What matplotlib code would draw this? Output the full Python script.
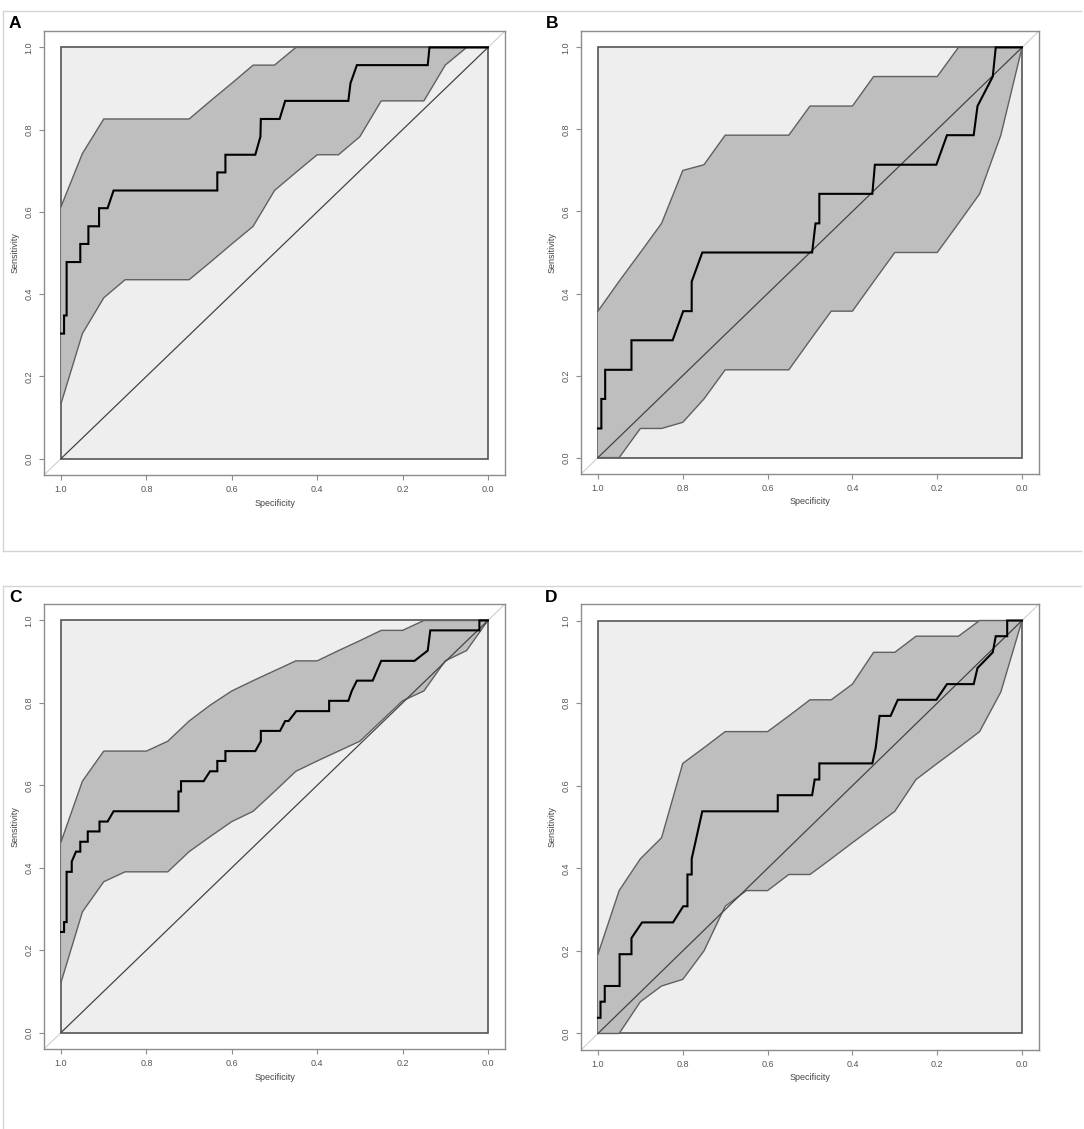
import matplotlib
matplotlib.use("Agg")
import matplotlib.pyplot as plt
from matplotlib.lines import Line2D
from matplotlib.patches import Rectangle
import numpy as np

plt.rcParams['font.family'] = ['Liberation Sans', 'DejaVu Sans']

# Common specificity grid for the confidence bands
ci_spec = [1.00, 0.95, 0.90, 0.85, 0.80, 0.75, 0.70, 0.65, 0.60, 0.55, 0.50,
           0.45, 0.40, 0.35, 0.30, 0.25, 0.20, 0.15, 0.10, 0.05, 0.00]

# ---------------- Panel A ----------------
a_roc_spec = [1.000, 0.993, 0.993, 0.987, 0.987, 0.955, 0.955, 0.936, 0.936,
              0.911, 0.911, 0.891, 0.877, 0.634, 0.634, 0.615, 0.615, 0.545, 0.533,
              0.532, 0.488, 0.475, 0.327, 0.322, 0.307, 0.141, 0.137, 0.000]
a_roc_sens = [0.304, 0.304, 0.348, 0.348, 0.478, 0.478, 0.522, 0.522, 0.565,
              0.565, 0.609, 0.609, 0.652, 0.652, 0.696, 0.696, 0.739, 0.739, 0.783,
              0.826, 0.826, 0.870, 0.870, 0.913, 0.957, 0.957, 1.000, 1.000]
a_ci_upper = [0.613, 0.742, 0.826, 0.826, 0.826, 0.826, 0.826, 0.870, 0.913, 0.957, 0.957,
              1.0, 1.0, 1.0, 1.0, 1.0, 1.0, 1.0, 1.0, 1.0, 1.0]
a_ci_lower = [0.134, 0.304, 0.391, 0.435, 0.435, 0.435, 0.435, 0.478, 0.522, 0.565, 0.652,
              0.696, 0.739, 0.739, 0.783, 0.870, 0.870, 0.870, 0.957, 1.0, 1.0]

# ---------------- Panel B ----------------
b_roc_spec = [1.000, 0.992, 0.992, 0.983, 0.983, 0.921, 0.921, 0.824, 0.799,
              0.779, 0.779, 0.754, 0.495, 0.487, 0.478, 0.478, 0.353, 0.347, 0.202,
              0.177, 0.114, 0.105, 0.069, 0.062, 0.000]
b_roc_sens = [0.071, 0.071, 0.143, 0.143, 0.214, 0.214, 0.286, 0.286, 0.357,
              0.357, 0.429, 0.500, 0.500, 0.571, 0.571, 0.643, 0.643, 0.714, 0.714,
              0.786, 0.786, 0.857, 0.929, 1.000, 1.000]
b_ci_upper = [0.357, 0.430, 0.500, 0.571, 0.700, 0.714, 0.786, 0.786, 0.786, 0.786, 0.857,
              0.857, 0.857, 0.929, 0.929, 0.929, 0.929, 1.0, 1.0, 1.0, 1.0]
b_ci_lower = [0.0, 0.0, 0.071, 0.071, 0.086, 0.143, 0.214, 0.214, 0.214, 0.214, 0.286,
              0.357, 0.357, 0.429, 0.500, 0.500, 0.500, 0.571, 0.643, 0.786, 1.0]

# ---------------- Panel C ----------------
c_roc_spec = [1.000, 0.993, 0.993, 0.987, 0.987, 0.975, 0.975, 0.965, 0.955,
              0.955, 0.9375, 0.9375, 0.910, 0.910, 0.891, 0.877, 0.725, 0.725, 0.719,
              0.719, 0.666, 0.651, 0.634, 0.634, 0.615, 0.615, 0.545, 0.532, 0.532,
              0.487, 0.475, 0.467, 0.449, 0.372, 0.372, 0.327, 0.319, 0.307, 0.270,
              0.250, 0.172, 0.141, 0.135, 0.020, 0.020, 0.000]
c_roc_sens = [0.244, 0.244, 0.268, 0.268, 0.390, 0.390, 0.415, 0.439, 0.439,
              0.463, 0.463, 0.488, 0.488, 0.512, 0.512, 0.537, 0.537, 0.585, 0.585,
              0.610, 0.610, 0.634, 0.634, 0.659, 0.659, 0.683, 0.683, 0.707, 0.732,
              0.732, 0.756, 0.756, 0.780, 0.780, 0.805, 0.805, 0.829, 0.854, 0.854,
              0.902, 0.902, 0.927, 0.976, 0.976, 1.000, 1.000]
c_ci_upper = [0.463, 0.610, 0.683, 0.683, 0.683, 0.707, 0.756, 0.795, 0.829, 0.854, 0.878,
              0.902, 0.902, 0.927, 0.951, 0.976, 0.976, 1.0, 1.0, 1.0, 1.0]
c_ci_lower = [0.122, 0.293, 0.366, 0.390, 0.390, 0.390, 0.439, 0.476, 0.512, 0.537, 0.585,
              0.634, 0.659, 0.683, 0.707, 0.756, 0.805, 0.829, 0.902, 0.927, 1.0]

# ---------------- Panel D ----------------
d_roc_spec = [1.000, 0.994, 0.994, 0.984, 0.984, 0.949, 0.949, 0.921, 0.921,
              0.896, 0.823, 0.799, 0.789, 0.789, 0.779, 0.779, 0.754, 0.576, 0.576,
              0.495, 0.489, 0.478, 0.478, 0.353, 0.345, 0.336, 0.310, 0.293, 0.202,
              0.177, 0.114, 0.105, 0.069, 0.062, 0.035, 0.035, 0.000]
d_roc_sens = [0.038, 0.038, 0.077, 0.077, 0.115, 0.115, 0.192, 0.192, 0.231,
              0.269, 0.269, 0.308, 0.308, 0.385, 0.385, 0.423, 0.538, 0.538, 0.577,
              0.577, 0.615, 0.615, 0.654, 0.654, 0.692, 0.769, 0.769, 0.808, 0.808,
              0.846, 0.846, 0.885, 0.923, 0.962, 0.962, 1.000, 1.000]
d_ci_upper = [0.192, 0.346, 0.423, 0.474, 0.654, 0.692, 0.731, 0.731, 0.731, 0.769, 0.808,
              0.808, 0.846, 0.923, 0.923, 0.962, 0.962, 0.962, 1.0, 1.0, 1.0]
d_ci_lower = [0.0, 0.0, 0.077, 0.115, 0.131, 0.200, 0.308, 0.346, 0.346, 0.385, 0.385,
              0.423, 0.462, 0.500, 0.538, 0.615, 0.654, 0.692, 0.731, 0.827, 1.0]

panel_labels = ["A", "B", "C", "D"]
tick_values = [0.0, 0.2, 0.4, 0.6, 0.8, 1.0]
tick_labels = ["0.0", "0.2", "0.4", "0.6", "0.8", "1.0"]

W, H = 1084, 1129
fig = plt.figure(figsize=(W / 100, H / 100), dpi=100)

def px_axes(left, top, right, bottom):
    return fig.add_axes([left / W, 1 - bottom / H, (right - left) / W, (bottom - top) / H])

# panel frames (light gray lines)
frame_col = "#d4d4d4"
for y in (11, 551, 586):
    fig.add_artist(Line2D([3 / W, 1081 / W], [1 - y / H, 1 - y / H], color=frame_col, lw=1.0))
fig.add_artist(Line2D([3 / W, 3 / W], [1 - 11 / H, 1 - 551 / H], color=frame_col, lw=1.0))
fig.add_artist(Line2D([3 / W, 3 / W], [1 - 586 / H, 1 - 1129 / H], color=frame_col, lw=1.0))

boxes = [(44, 31, 505, 475), (581, 31, 1039, 474), (44, 604, 505, 1049), (581, 604, 1039, 1050)]
label_pos = [(9, 24), (546, 24), (9, 597), (545, 597)]
data = [
    (a_roc_spec, a_roc_sens, a_ci_upper, a_ci_lower),
    (b_roc_spec, b_roc_sens, b_ci_upper, b_ci_lower),
    (c_roc_spec, c_roc_sens, c_ci_upper, c_ci_lower),
    (d_roc_spec, d_roc_sens, d_ci_upper, d_ci_lower),
]

for box, lab, lp, (rs, rse, cu, cl) in zip(boxes, panel_labels, label_pos, data):
    ax = px_axes(*box)
    ax.set_xlim(1.04, -0.04)
    ax.set_ylim(-0.04, 1.04)
    # light diagonal across whole plot region
    ax.plot([1.04, -0.04], [-0.04, 1.04], color="#cfcfcf", lw=0.8, zorder=1)
    # gray data square
    ax.add_patch(Rectangle((0, 0), 1, 1, facecolor="#eeeeee", edgecolor="#555555",
                           lw=1.2, zorder=2))
    # confidence band
    ax.fill_between(ci_spec, cl, cu, facecolor="#bebebe", edgecolor="none", zorder=3)
    ax.plot(ci_spec, cu, color="#606060", lw=1.0, zorder=4)
    ax.plot(ci_spec, cl, color="#606060", lw=1.0, zorder=4)
    # chance diagonal
    ax.plot([1, 0], [0, 1], color="#444444", lw=0.9, zorder=5)
    # ROC curve
    ax.plot(rs, rse, color="black", lw=1.5, zorder=6, solid_joinstyle="miter")

    for s in ax.spines.values():
        s.set_color("#8c8c8c")
        s.set_linewidth(1.0)
    ax.set_xticks(tick_values)
    ax.set_xticklabels(tick_labels)
    ax.set_yticks(tick_values)
    ax.set_yticklabels(tick_labels, rotation=90, va="center")
    ax.tick_params(axis="both", colors="#8c8c8c", length=3.5, width=0.8,
                   labelsize=6.5, labelcolor="#555555", pad=4)
    ax.set_xlabel("Specificity", fontsize=6.5, color="#444444")
    ax.set_ylabel("Sensitivity", fontsize=6.5, color="#444444")
    axw = box[2] - box[0]
    axh = box[3] - box[1]
    ax.xaxis.set_label_coords(0.5, -28 / axh)
    ax.xaxis.label.set_va("center")
    ax.yaxis.set_label_coords(-29 / axw, 0.5)
    ax.yaxis.label.set_va("center")
    ax.set_facecolor("white")

    fig.text(lp[0] / W, 1 - lp[1] / H, lab, fontsize=12.5, fontweight="bold",
             ha="left", va="center", color="black")

fig.savefig("out.png", dpi=100)
